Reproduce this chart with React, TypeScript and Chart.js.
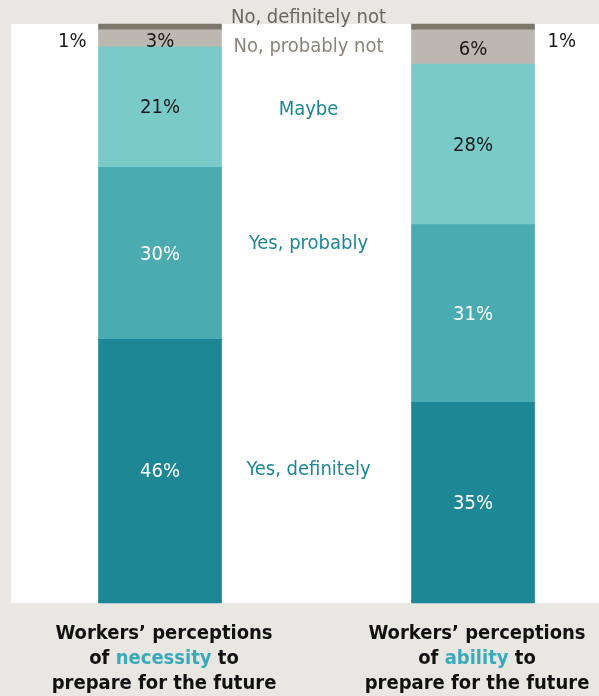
import React, { useEffect, useRef } from "react";
import { Chart, registerables } from "chart.js";

Chart.register(...registerables);

const categories = ["necessity", "ability"];
const seriesNames = ["Yes, definitely", "Yes, probably", "Maybe", "No, probably not", "No, definitely not"];
const yesDefinitely = [46, 35];
const yesProbably = [30, 31];
const maybe = [21, 28];
const noProbablyNot = [3, 6];
const noDefinitelyNot = [1, 1];
const valueLabels = [
  ["46%", "35%"],
  ["30%", "31%"],
  ["21%", "28%"],
  ["3%", "6%"],
  ["1%", "1%"],
];
const titleLines = [
  ["Workers’ perceptions", "of ", "necessity", " to", "prepare for the future"],
  ["Workers’ perceptions", "of ", "ability", " to", "prepare for the future"],
];

const COLORS = ["#1e8796", "#4aabb1", "#7acaca", "#bcb7b0", "#7d776c"];
const VALUE_TEXT = ["#ffffff", "#ffffff", "#1a1a1a", "#1a1a1a", "#1a1a1a"];
const NAME_TEXT = ["#1e8796", "#1e8796", "#1e8796", "#8c8478", "#6b665d"];
const BG = "#e8e7e2";
const FONT = '"Liberation Sans Narrow", "DejaVu Sans Condensed", "Roboto", sans-serif';

export default function App() {
  const ref = useRef<HTMLCanvasElement | null>(null);
  useEffect(() => {
    document.body.style.margin = "0";
    const canvas = ref.current!;
    const series = [yesDefinitely, yesProbably, maybe, noProbablyNot, noDefinitelyNot];

    const decor = {
      id: "decor",
      beforeDraw(chart: any) {
        const { ctx, chartArea } = chart;
        ctx.save();
        ctx.fillStyle = BG;
        ctx.fillRect(0, 0, chart.width, chart.height);
        ctx.fillStyle = "#ffffff";
        ctx.fillRect(11, chartArea.top, chart.width - 11, chartArea.bottom - chartArea.top);
        ctx.restore();
      },
      afterDatasetsDraw(chart: any) {
        const { ctx } = chart;
        ctx.save();
        ctx.textBaseline = "middle";
        // value labels
        for (let d = 0; d < series.length; d++) {
          const meta = chart.getDatasetMeta(d);
          meta.data.forEach((bar: any, i: number) => {
            const mid = (bar.y + bar.base) / 2;
            ctx.font = `20px ${FONT}`;
            if (d === 4) {
              const y = chart.chartArea.top + 18;
              ctx.fillStyle = "#1a1a1a";
              if (i === 0) {
                ctx.textAlign = "right";
                ctx.fillText(valueLabels[d][i], bar.x - bar.width / 2 - 12, y);
              } else {
                ctx.textAlign = "left";
                ctx.fillText(valueLabels[d][i], bar.x + bar.width / 2 + 13, y);
              }
            } else {
              ctx.textAlign = "center";
              ctx.fillStyle = VALUE_TEXT[d];
              ctx.fillText(valueLabels[d][i], bar.x, mid + (d === 3 ? 3 : 1));
            }
          });
        }
        // series names between bars
        const b0 = chart.getDatasetMeta(0).data[0];
        const b1 = chart.getDatasetMeta(0).data[1];
        const cx = (b0.x + b0.width / 2 + b1.x - b1.width / 2) / 2 - 8;
        ctx.textAlign = "center";
        ctx.font = `20px ${FONT}`;
        for (let d = 0; d < series.length; d++) {
          const bar = chart.getDatasetMeta(d).data[0];
          let y = (bar.y + bar.base) / 2;
          if (d === 4) y = chart.chartArea.top - 6;
          if (d === 3) y += 8;
          if (d === 2) y += 3;
          if (d === 1) y -= 10;
          if (d === 0) y -= 1;
          ctx.fillStyle = NAME_TEXT[d];
          ctx.fillText(seriesNames[d], cx, y);
        }
        // category titles
        ctx.font = `bold 20px ${FONT}`;
        chart.getDatasetMeta(0).data.forEach((bar: any, i: number) => {
          const t = titleLines[i];
          const x = bar.x + 4;
          const top = chart.chartArea.bottom + 31;
          ctx.fillStyle = "#111111";
          ctx.textAlign = "center";
          ctx.fillText(t[0], x, top);
          ctx.fillText(t[4], x, top + 50);
          const parts = [t[1], t[2], t[3]];
          const widths = parts.map((p) => ctx.measureText(p).width);
          const total = widths.reduce((a, b) => a + b, 0);
          let px = x - total / 2;
          ctx.textAlign = "left";
          parts.forEach((p, k) => {
            ctx.fillStyle = k === 1 ? "#3aaabb" : "#111111";
            ctx.fillText(p, px, top + 25);
            px += widths[k];
          });
        });
        ctx.restore();
      },
    };

    const chart = new Chart(canvas, {
      type: "bar",
      data: {
        labels: categories,
        datasets: series.map((s, d) => ({
          label: seriesNames[d],
          data: s,
          backgroundColor: COLORS[d],
          borderWidth: 0,
          barThickness: 123,
          clip: false as any,
        })),
      },
      options: {
        responsive: false,
        animation: false,
        layout: { padding: { left: 160, right: 126, top: 24, bottom: 93 } },
        plugins: { legend: { display: false }, tooltip: { enabled: false } },
        scales: {
          x: { stacked: true, display: false, offset: false },
          y: { stacked: true, display: false, min: 0, max: 101 },
        },
      },
      plugins: [decor],
    });
    return () => chart.destroy();
  }, []);
  return <canvas ref={ref} width={599} height={696} style={{ display: "block" }} />;
}
